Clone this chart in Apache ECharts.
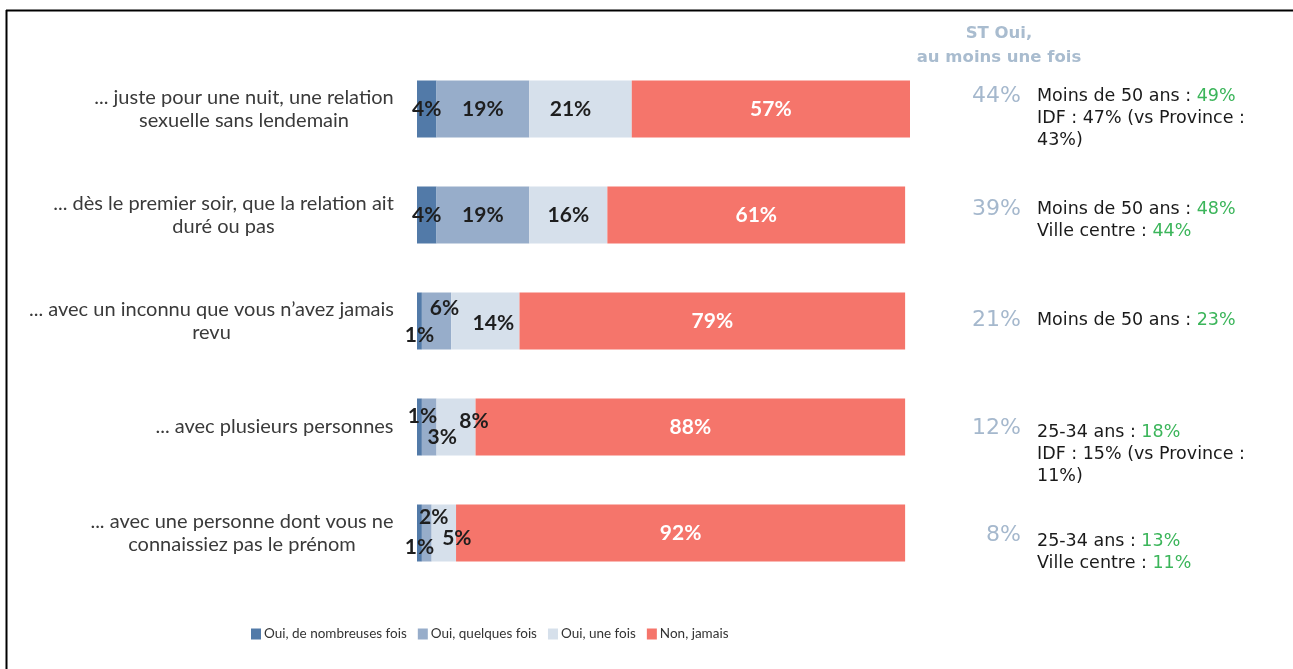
<!DOCTYPE html>
<html><head><meta charset="utf-8">
<script src="https://cdn.jsdelivr.net/npm/echarts@6/dist/echarts.min.js"></script>
<style>html,body{margin:0;padding:0;background:#fff}#c{width:1293px;height:669px}</style>
</head><body><div id="c"></div><script>
// ---- data ----
const categories = [
  "... juste pour une nuit, une relation\nsexuelle sans lendemain",
  "... dès le premier soir, que la relation ait\nduré ou pas",
  "... avec un inconnu que vous n’avez jamais\nrevu",
  "... avec plusieurs personnes",
  "... avec une personne dont vous ne\nconnaissiez pas le prénom"
];
const seriesNames = ["Oui, de nombreuses fois", "Oui, quelques fois", "Oui, une fois", "Non, jamais"];
const nombreuses = [4, 4, 1, 1, 1];
const quelques = [19, 19, 6, 3, 2];
const uneFois = [21, 16, 14, 8, 5];
const jamais = [57, 61, 79, 88, 92];
const stOui = [44, 39, 21, 12, 8];
const headerLines = ["ST Oui,", "au moins une fois"];
const notes = [
  "Moins de 50 ans : {g|49%}\nIDF : 47% (vs Province :\n43%)",
  "Moins de 50 ans : {g|48%}\nVille centre : {g|44%}",
  "Moins de 50 ans : {g|23%}",
  "25-34 ans : {g|18%}\nIDF : 15% (vs Province :\n11%)",
  "25-34 ans : {g|13%}\nVille centre : {g|11%}"
];

// ---- styles ----
const colors = ["#527aa8", "#97adca", "#d6e0eb", "#f5756b"];
const labelOffsets = {
  "2-0": [-10, 0],
  "0-2": [0, 14], "1-2": [8, -13], "2-2": [8, 2],
  "0-3": [3, -11], "1-3": [13, 10], "2-3": [18, -6],
  "0-4": [0, 14], "1-4": [7, -16], "2-4": [13, 5]
};
const totalDy = [-13, -6, -1, 1, 2];
const noteDy = [-13, -6, -1, 5, 8];
const catFont = "Lato";
const catSize = 20;

const cv = document.createElement("canvas").getContext("2d");
cv.font = catSize + "px " + catFont;
const rich = {};
categories.forEach((c, i) => {
  const w = Math.max(...c.split("\n").map(l => cv.measureText(l).width));
  rich["r" + i] = { width: Math.ceil(w) + 2, align: "center", fontFamily: catFont, fontSize: catSize, color: "#3a3a3a", lineHeight: 23 };
});

const dataSets = [nombreuses, quelques, uneFois, jamais];
const series = dataSets.map((arr, s) => ({
  name: seriesNames[s],
  type: "bar",
  stack: "t",
  barWidth: 57,
  itemStyle: { color: colors[s] },
  data: arr.map((v, r) => {
    const off = labelOffsets[s + "-" + r];
    const d = { value: v };
    if (off) d.label = { offset: off };
    return d;
  }),
  label: {
    show: true, position: "inside", formatter: "{c}%",
    fontFamily: "Lato", fontWeight: "bold", fontSize: 21,
    color: s === 3 ? "#ffffff" : "#1e1e1e"
  }
}));

const chart = echarts.init(document.getElementById("c"), null, { renderer: "canvas" });
chart.setOption({
  animation: false,
  backgroundColor: "#ffffff",
  grid: { left: 417, top: 56, width: 493, height: 530 },
  xAxis: { type: "value", min: 0, max: 101, show: false },
  yAxis: {
    type: "category", inverse: true, data: categories,
    axisLine: { show: false }, axisTick: { show: false },
    axisLabel: {
      margin: 22,
      formatter: (v, idx) => v.split("\n").map(l => "{r" + idx + "|" + l + "}").join("\n"),
      rich: rich
    }
  },
  legend: {
    left: 246, top: 622, icon: "rect", itemWidth: 10, itemHeight: 11, itemGap: 11,
    textStyle: { fontFamily: "Lato", fontSize: 13.5, color: "#333", padding: [0, 0, 0, -2] },
    data: seriesNames
  },
  series: series
});

const g = [
  { type: "line", shape: { x1: 6, y1: 10.5, x2: 1293, y2: 10.5 }, style: { stroke: "#000", lineWidth: 2 } },
  { type: "line", shape: { x1: 6.5, y1: 10, x2: 6.5, y2: 669 }, style: { stroke: "#000", lineWidth: 2 } },
  { type: "text", x: 999, y: 22, style: { text: headerLines.join("\n"), align: "center", verticalAlign: "top",
      fontFamily: "DejaVu Sans", fontWeight: "bold", fontSize: 16.5, lineHeight: 24, fill: "#a9bccf" } }
];
stOui.forEach((v, i) => {
  const cy = chart.convertToPixel({ yAxisIndex: 0 }, i);
  g.push({ type: "text", x: 1021, y: cy + totalDy[i], style: { text: v + "%", align: "right", verticalAlign: "middle",
    fontFamily: "DejaVu Sans", fontSize: 22, fill: "#a5b8cd" } });
  g.push({ type: "text", x: 1037, y: cy + noteDy[i] - 11, style: { text: notes[i], align: "left", verticalAlign: "top",
    fontFamily: "DejaVu Sans", fontSize: 17.5, lineHeight: 22, fill: "#1a1a1a",
    rich: { g: { fill: "#3bb55a", fontFamily: "DejaVu Sans", fontSize: 17.5, lineHeight: 22 } } } });
});
chart.setOption({ graphic: g });
</script></body></html>
